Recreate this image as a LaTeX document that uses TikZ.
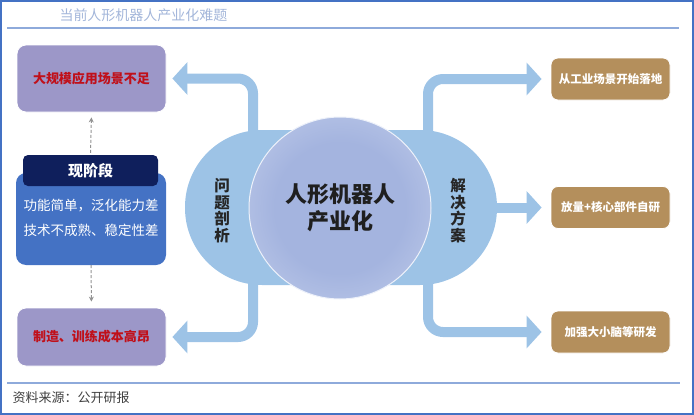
\documentclass[tikz,border=0pt]{standalone}
\usepackage{fontspec}
\setmainfont{Noto Sans CJK SC}
\usetikzlibrary{arrows.meta}
\definecolor{framec}{HTML}{4472C4}
\definecolor{rulec}{HTML}{8EAADB}
\definecolor{titlec}{HTML}{A3B6DA}
\definecolor{probfill}{HTML}{9C97C8}
\definecolor{probred}{HTML}{C0101A}
\definecolor{navyc}{HTML}{0F1F5C}
\definecolor{nowblue}{HTML}{4472C4}
\definecolor{arrblue}{HTML}{9DC3E6}
\definecolor{solfill}{HTML}{B48F5C}
\definecolor{glowin}{HTML}{A4B4DF}
\definecolor{glowout}{HTML}{D8E0F3}
\pgfdeclareradialshading{hubglow}{\pgfpoint{0bp}{0bp}}{color(0bp)=(glowin); color(18bp)=(glowin); color(50bp)=(glowout); color(100bp)=(glowout)}
\begin{document}
\begin{tikzpicture}[x=1pt, y=-1pt,
    probbox/.style={draw=white, line width=0.8pt, fill=probfill, rounded corners=9pt,
        minimum width=149pt, text=probred, font=\bfseries\fontsize{13}{15}\selectfont},
    solbox/.style={draw=white, line width=0.8pt, fill=solfill, rounded corners=7pt,
        minimum width=119pt, minimum height=42pt, text=white, font=\bfseries\fontsize{11.5}{13}\selectfont},
    flowarr/.style={draw=arrblue, line width=10pt, rounded corners=15pt,
        -{Triangle[width=32pt,length=15pt]}},
    dasharr/.style={draw=gray!85, dash pattern=on 3pt off 2pt, line width=1pt, -{Stealth[length=5pt,width=5pt]}},
    vlabel/.style={align=center, text=black!85, font=\bfseries\fontsize{15.5}{16.5}\selectfont},
]
    \useasboundingbox (0,0) rectangle (694,415);
    % frame, title and rules
    \draw[framec, line width=1.5pt] (1,1) rectangle (693,414);
    \node[text=titlec, font=\fontsize{14}{16}\selectfont] (title) at (143.5,15) {当前人形机器人产业化难题};
    \draw[rulec, line width=1.2pt] (7,28) -- (679,28);
    \draw[rulec, line width=1.2pt] (7,383) -- (680,383);
    \node[anchor=west, text=black!75, font=\fontsize{13}{15}\selectfont] (src) at (9,398) {资料来源：公开研报};

    % left column
    \node[probbox, minimum height=67pt] (scene) at (91.5,78.5) {大规模应用场景不足};
    \node[probbox, minimum height=58pt] (cost) at (91.5,337) {制造、训练成本高昂};
    \node[fill=nowblue, rounded corners=10pt, minimum width=150pt, minimum height=92pt] (now) at (91,219) {};
    \node[align=center, text=white, font=\fontsize{13.5}{25}\selectfont] (nowtxt) at (91,218)
        {功能简单，泛化能力差\\技术不成熟、稳定性差};
    \node[fill=navyc, rounded corners=5pt, minimum width=135pt, minimum height=31pt,
        text=white, font=\bfseries\fontsize{15}{17}\selectfont] (stage) at (90.5,170.5) {现阶段};
    \draw[dasharr, shorten >=5pt, shorten <=2pt] (stage.north) -- (scene.south);
    \draw[dasharr, shorten >=6pt] (now.south) -- (cost.north);

    % right column
    \node[solbox] (land) at (610.5,79) {从工业场景开始落地};
    \node[solbox] (core) at (610.5,207.5) {放量+核心部件自研};
    \node[solbox] (brain) at (610.5,332) {加强大小脑等研发};

    % hub
    \coordinate (hl) at (253,207.5);
    \coordinate (hr) at (428,207.5);
    \draw[flowarr, shorten >=6pt] (hl) |- (scene.east);
    \draw[flowarr, shorten >=6pt] (hl) |- (cost.east);
    \draw[flowarr, shorten >=9pt] (hr) |- (land.west);
    \draw[flowarr, shorten >=9pt] (hr) -- (core.west);
    \draw[flowarr, shorten >=9pt] (hr) |- (brain.west);
    \node[fill=arrblue, rounded corners=77pt, minimum width=312pt, minimum height=155pt] (hub) at (341,207.5) {};
    \node[circle, minimum size=182pt, shading=hubglow, draw=white!55!glowout, line width=1pt,
        align=center, text=black!88, font=\bfseries\fontsize{22}{27}\selectfont] (ind) at (340,208)
        {人形机器人\\产业化};
    \node[vlabel] (anal) at (222,210.5) {问\\题\\剖\\析};
    \node[vlabel] (plan) at (458,210.5) {解\\决\\方\\案};
\end{tikzpicture}
\end{document}
